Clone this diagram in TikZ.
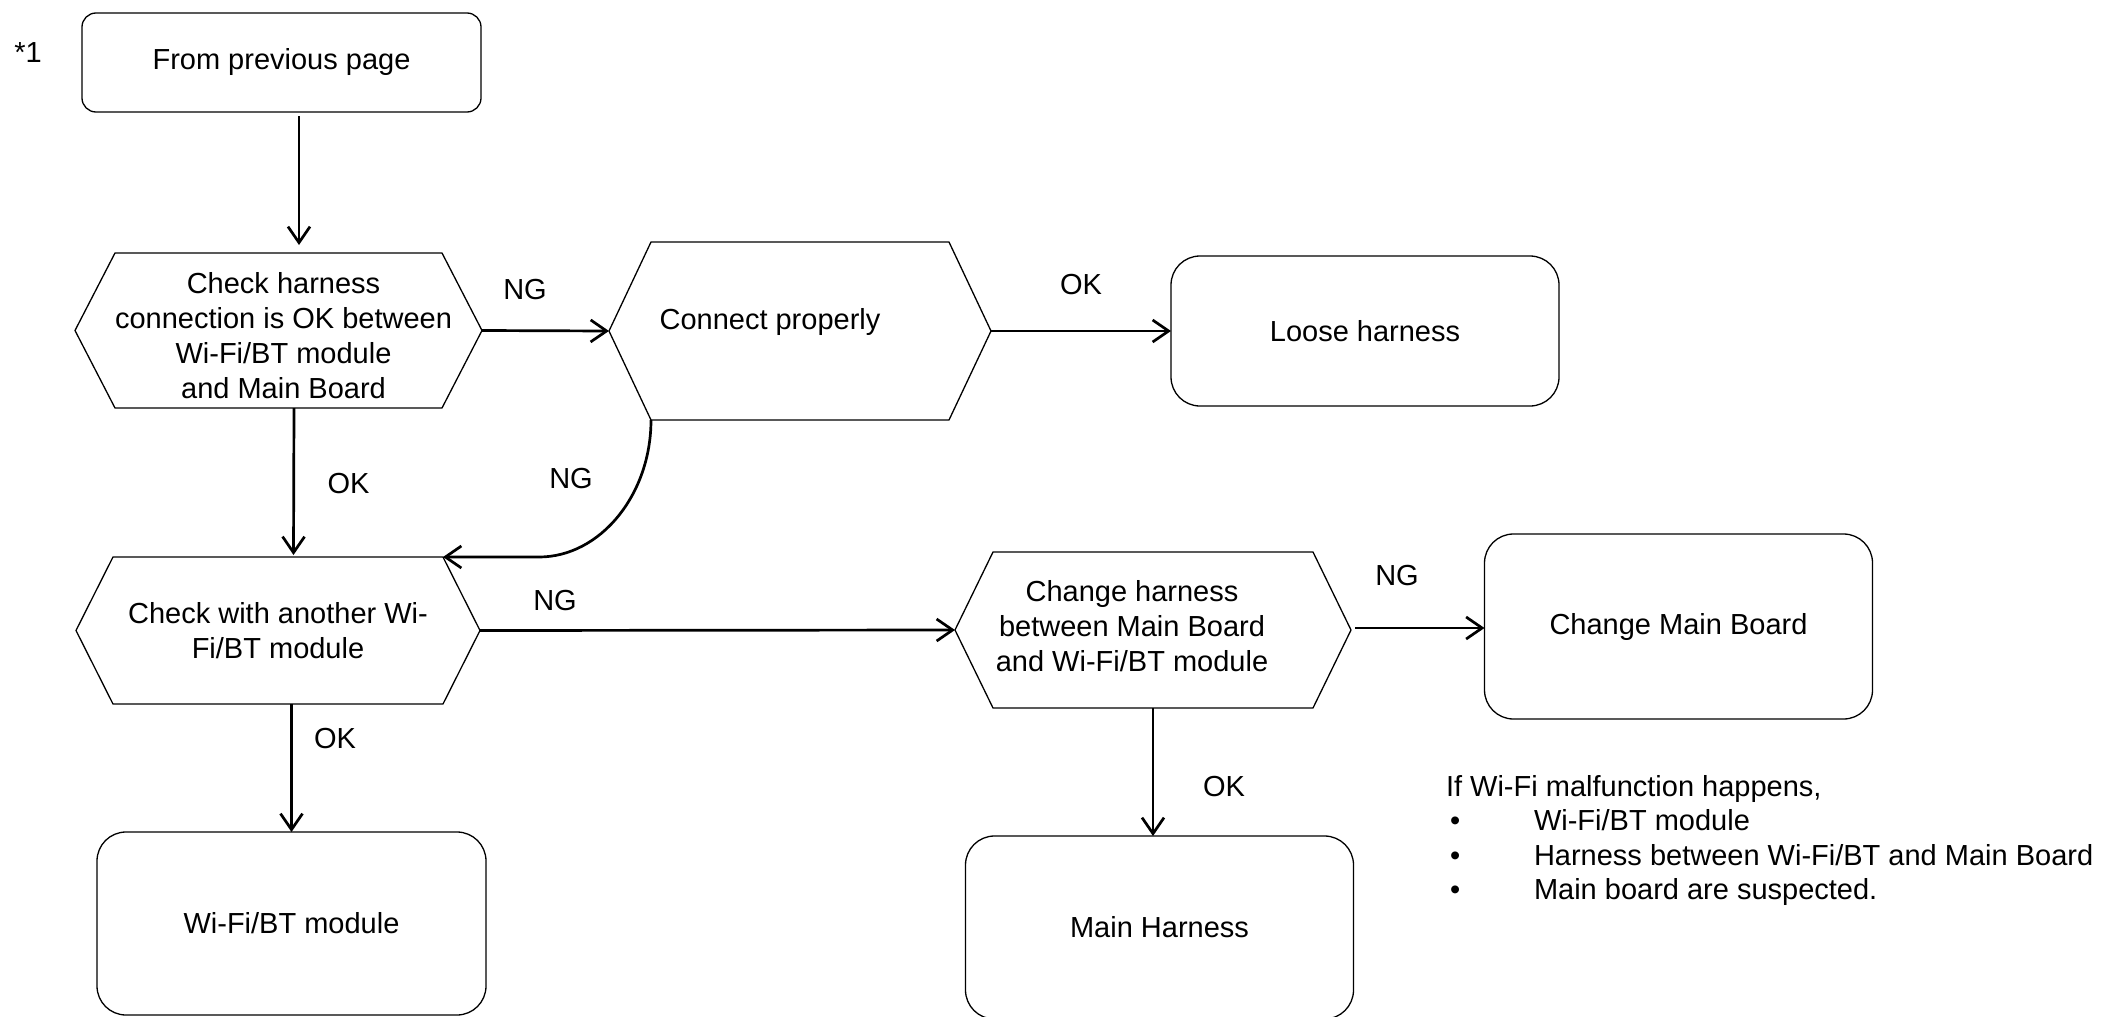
\documentclass[tikz,border=0pt]{standalone}
\usepackage{fontspec}
\setmainfont{Liberation Sans}
\usetikzlibrary{arrows.meta}

% Hexagonal decision box: an invisible rectangle carries the name and anchors,
% the outline is drawn from its corners, and the text sits at a chosen offset.
% #1 name, #2 centre, #3 width, #4 height, #5 point depth, #6 text shift, #7 text
\newcommand\hexbox[7]{%
  \node[hexframe, minimum width=#3, minimum height=#4] (#1) at (#2) {};
  \draw[shapeline] (#1.west)
    -- ([xshift=#5]#1.north west) coordinate (#1-nw)
    -- ([xshift=-#5]#1.north east) coordinate (#1-ne)
    -- (#1.east)
    -- ([xshift=-#5]#1.south east) coordinate (#1-se)
    -- ([xshift=#5]#1.south west) coordinate (#1-sw)
    -- cycle;
  \node[align=center] (#1-t) at ([shift={#6}]#1.center) {#7};
}

\begin{document}
\begin{tikzpicture}[x=1pt, y=1pt,
  every node/.style={font=\fontsize{29}{35}\selectfont, inner sep=0pt, outer sep=0pt},
  shapeline/.style={line width=1.3pt, line join=miter},
  hexframe/.style={rectangle},
  rbox/.style={draw, line width=1.3pt, rounded corners=29pt},
  conn/.style={line width=2.7pt, -{Straight Barb[length=16pt, width=22pt]}},
]
\useasboundingbox (0,0) rectangle (2102,-1017);
\clip (0,0) rectangle (2102,-1017);

% --- boxes -------------------------------------------------------------
\node (star) at (28,-53) {*1};
\node[rbox, rounded corners=14pt, minimum width=399pt, minimum height=99pt]
  (prev) at (281.5,-62.5) {From previous page};

\hexbox{h1}{278.5,-330.5}{407pt}{155pt}{40pt}{(5pt,-5pt)}%
  {Check harness\\connection is OK between\\Wi-Fi/BT module\\and Main Board}
\hexbox{cp}{800,-331}{382pt}{178pt}{42pt}{(-30pt,9pt)}{Connect properly}
\node[rbox, minimum width=388pt, minimum height=150pt]
  (lh) at (1365,-331) {Loose harness};

\hexbox{h2}{278,-630.5}{404pt}{147pt}{37pt}{(0pt,0pt)}%
  {Check with another Wi-\\Fi/BT module}
\hexbox{h3}{1153,-630}{396pt}{156pt}{38pt}{(-21pt,4pt)}%
  {Change harness\\between Main Board\\and Wi-Fi/BT module}
\node[rbox, minimum width=388pt, minimum height=185pt]
  (cmb) at (1678.5,-626.5) {Change Main Board};

\node[rbox, minimum width=389pt, minimum height=183pt]
  (wb) at (291.5,-923.5) {Wi-Fi/BT module};
\node[rbox, minimum width=388pt, minimum height=183pt]
  (mh) at (1159.5,-927.5) {Main Harness};

% --- branch labels -------------------------------------------------------
\node (ng1) at (525,-290) {NG};
\node (ok1) at (1081,-285) {OK};
\node (ng2) at (571,-479) {NG};
\node (ok2) at (348.5,-484) {OK};
\node (ng3) at (555,-601) {NG};
\node (ok3) at (335,-739) {OK};
\node (ng4) at (1397,-576) {NG};
\node (ok4) at (1224,-787) {OK};

% --- connectors ----------------------------------------------------------
\draw[conn] ([xshift=17.5pt,yshift=-4pt]prev.south) -- ([xshift=20.5pt,yshift=8pt]h1.north);
\draw[conn] (h1.east) -- (cp.west);
\draw[conn] (cp.east) -- (lh.west);
\draw[conn] ([xshift=15.5pt]h1.south) -- ([xshift=15.5pt,yshift=2pt]h2.north);
\draw[conn] (cp-sw) .. controls +(0,-75) and +(61,0) .. ([xshift=96pt]h2-ne) -- (h2-ne);
\draw[conn] (h2.east) -- (h3.west);
\draw[conn] ([xshift=4pt,yshift=2pt]h3.east) -- ([yshift=2pt]h3.east -| cmb.west);
\draw[conn] (wb.north |- h2.south) -- (wb.north);
\draw[conn] (h3.south) -- (h3.south |- mh.north);

% --- note ----------------------------------------------------------------
\node[anchor=base west] (note) at (1446,-796) {%
  \fontsize{29}{34.5}\selectfont
  \begin{tabular}[t]{@{}l@{}}
    If Wi-Fi malfunction happens,\\
    \makebox[88pt][l]{\hspace{4pt}\textbullet}Wi-Fi/BT module\\
    \makebox[88pt][l]{\hspace{4pt}\textbullet}Harness between Wi-Fi/BT and Main Board\\
    \makebox[88pt][l]{\hspace{4pt}\textbullet}Main board are suspected.
  \end{tabular}};
\end{tikzpicture}
\end{document}
